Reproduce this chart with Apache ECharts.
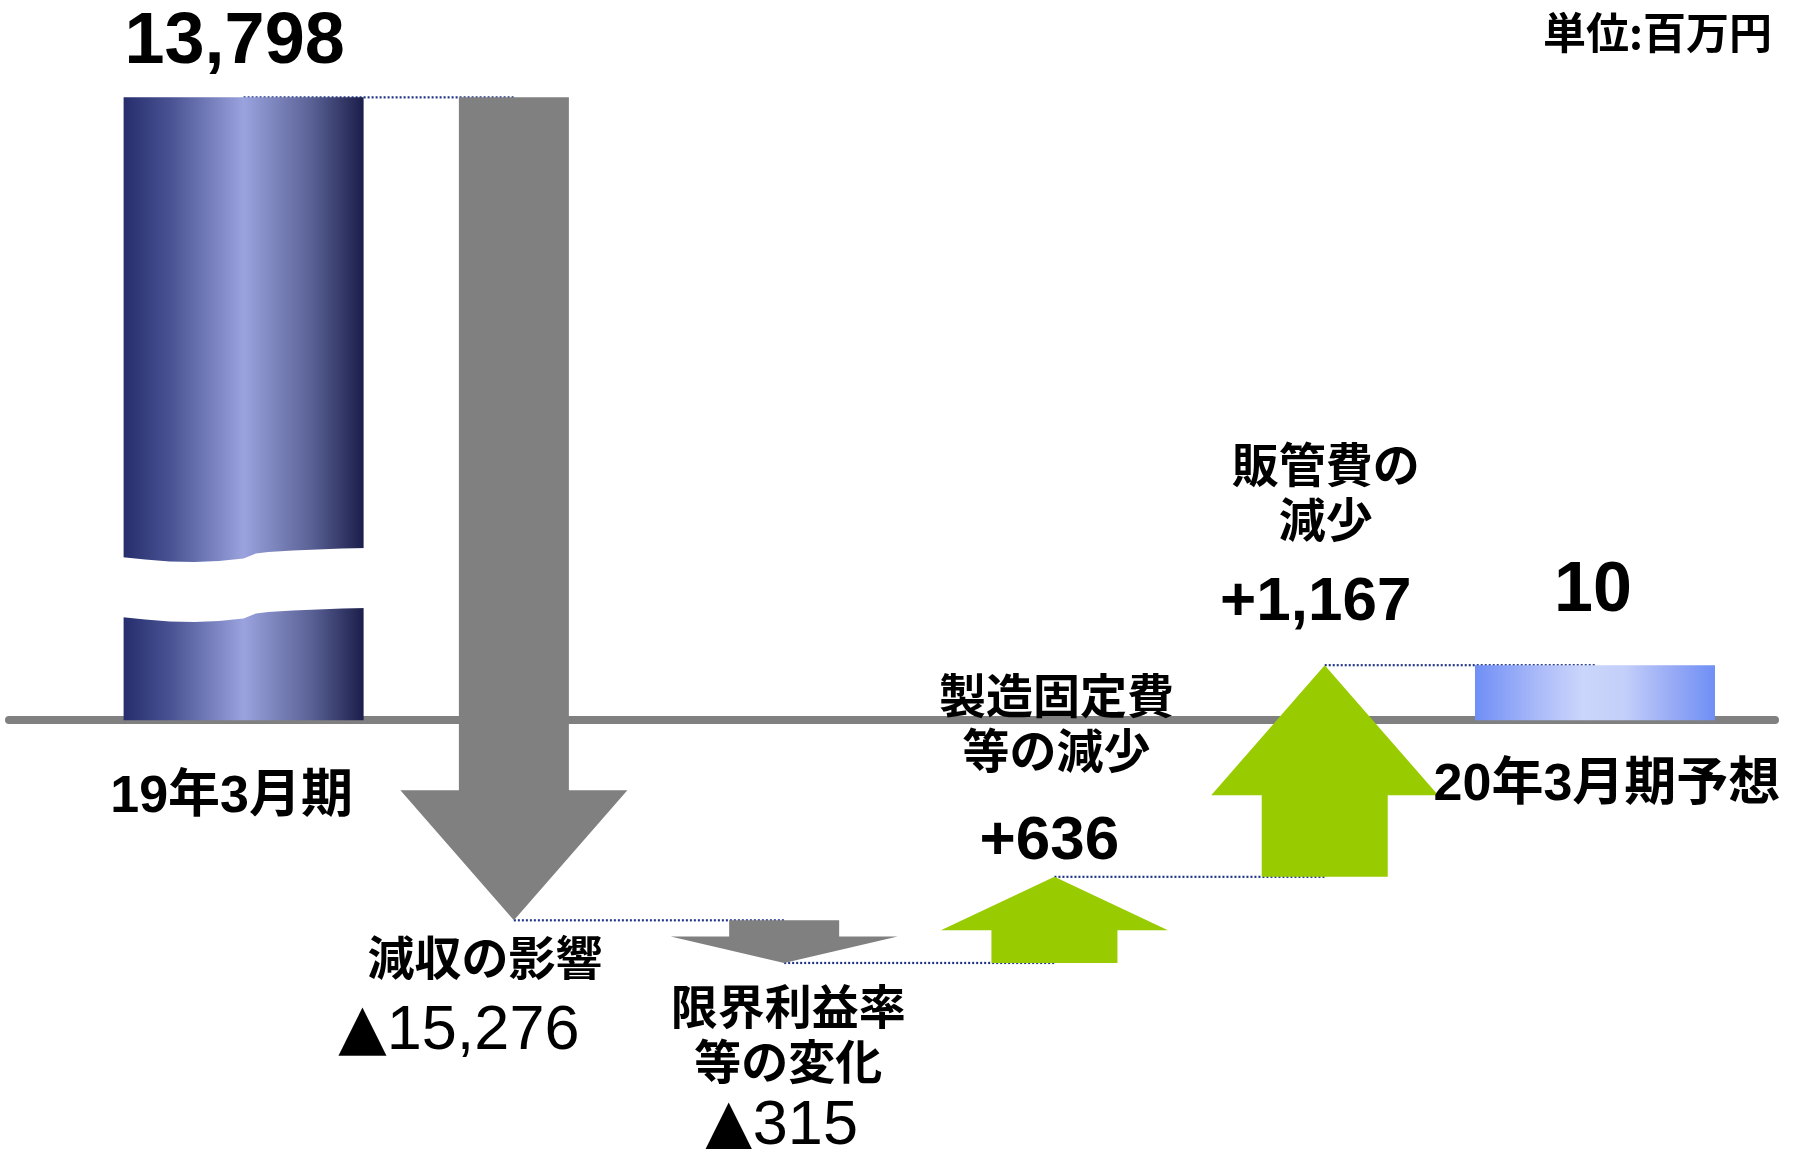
<!DOCTYPE html>
<html><head><meta charset="utf-8">
<script src="https://cdn.jsdelivr.net/npm/echarts@6/dist/echarts.min.js"></script>
<style>html,body{margin:0;padding:0;background:#fff;}#chart{width:1793px;height:1149px;}</style>
</head><body><div id="chart"></div>
<script>
// ---------------- data ----------------
const categories = ['19年3月期', '減収の影響', '限界利益率\n等の変化', '製造固定費\n等の減少', '販管費の\n減少', '20年3月期予想'];
const values = [13798, -15276, -315, 636, 1167, 10];
const kinds = ['total', 'delta', 'delta', 'delta', 'delta', 'total'];
const unitLabel = '単位:百万円';

// ---------------- derived waterfall levels ----------------
const starts = [], ends = [];
let run = 0;
values.forEach((v, i) => {
  if (kinds[i] === 'total') { starts.push(0); ends.push(v); run = v; }
  else { starts.push(run); run += v; ends.push(run); }
});
const seriesData = values.map((v, i) => [i, starts[i], ends[i], v]);

function fmtValue(v, kind) {
  const s = Math.abs(v).toLocaleString('en-US');
  if (kind === 'total') return s;
  return v < 0 ? '{tri|▲}' + s : '+' + s;
}

// ---------------- scale / style config ----------------
const Y_BREAKS = [{ start: 2, end: 8, gap: 402 }, { start: 380, end: 10418, gap: 443 }];
const FONT = '"Liberation Sans", "Noto Sans CJK JP", sans-serif';
const STYLE = {
  barWidth: 240,
  shaftDown: 110, shaftUp: 126, headWidth: 227, headRatio: 0.62, headMax: 130,
  down: '#808080', up: '#99cc00',
  startFill: new echarts.graphic.LinearGradient(0, 0, 1, 0, [
    { offset: 0, color: '#262d6c' }, { offset: 0.2, color: '#4a5494' },
    { offset: 0.5, color: '#9aa3de' }, { offset: 0.78, color: '#5a6296' },
    { offset: 1, color: '#1b1e4a' }]),
  endFill: new echarts.graphic.LinearGradient(0, 0, 1, 0, [
    { offset: 0, color: '#6f8ff6' }, { offset: 0.25, color: '#a8b8f8' },
    { offset: 0.45, color: '#cbd6fb' }, { offset: 0.62, color: '#c4cffa' },
    { offset: 0.82, color: '#98abf5' }, { offset: 1, color: '#6f8ff6' }]),
  connector: '#1f3388'
};
// wavy edge of the broken bar: [fraction across, offset px]
const WAVE = [[0,0],[0.1,2.5],[0.2,4.5],[0.3,5],[0.4,4],[0.5,1.5],[0.55,-3.5],[0.6,-5],[0.7,-6.5],[0.8,-7.5],[0.9,-8.5],[1,-9]];
// label placement relative to mark: anchor 'end' | 'start' | 'zero'
const LABELS = [
  { val: { a: 'end', dx: -9, dy: -54, size: 72, w: 'bold' },   cat: { a: 'zero', dx: -12, dy: 77, size: 52 } },
  { val: { a: 'end', dx: -55, dy: 111, size: 63, w: 'normal' }, cat: { a: 'end', dx: -29, dy: 42, size: 47 } },
  { val: { a: 'end', dx: -3, dy: 164, size: 63, w: 'normal' },  cat: { a: 'end', dx: 4, dy: 76, size: 47 } },
  { val: { a: 'start', dx: -5, dy: -121, size: 62, w: 'bold' }, cat: { a: 'start', dx: 2, dy: -235, size: 47 } },
  { val: { a: 'end', dx: -9, dy: -62, size: 62, w: 'bold' },    cat: { a: 'end', dx: 1, dy: -169, size: 47 } },
  { val: { a: 'end', dx: -2, dy: -73, size: 70, w: 'bold' },    cat: { a: 'zero', dx: 12, dy: 65, size: 52 } }
];

function renderItem(params, api) {
  const i = api.value(0), s = api.value(1), e = api.value(2), v = api.value(3);
  const p0 = api.coord([i, 0]);
  const cx = p0[0], y0 = p0[1];
  const yS = api.coord([i, s])[1];
  const yE = api.coord([i, e])[1];
  const children = [];
  const kind = kinds[i];

  if (i < values.length - 1) {
    const x2 = api.coord([i + 1, e])[0];
    children.push({ type: 'line', z2: 1, shape: { x1: cx, y1: yE, x2: x2, y2: yE },
      style: { stroke: STYLE.connector, lineWidth: 2.2, lineDash: [2, 2] } });
  }

  if (kind === 'total') {
    const w = STYLE.barWidth;
    children.push({ type: 'rect', z2: 5,
      shape: { x: cx - w / 2, y: Math.min(y0, yE), width: w, height: Math.abs(y0 - yE) },
      style: { fill: i === 0 ? STYLE.startFill : STYLE.endFill } });
    const br = Y_BREAKS[1];
    if (e > br.end) {
      const yTop = api.coord([i, br.end])[1] + 2, yBot = api.coord([i, br.start])[1] + 2;
      const xl = cx - w / 2 - 3, ww = w + 6;
      const pts = WAVE.map(([t, d]) => [xl + t * ww, yTop + d]);
      WAVE.slice().reverse().forEach(([t, d]) => pts.push([xl + t * ww, yBot + d]));
      children.push({ type: 'polygon', z2: 6, shape: { points: pts }, style: { fill: '#ffffff' } });
    }
  } else {
    const down = yE > yS;
    const dir = down ? 1 : -1;
    const len = Math.abs(yE - yS);
    const head = Math.min(len * STYLE.headRatio, STYLE.headMax);
    const base = yE - dir * head;
    const sw = down ? STYLE.shaftDown : STYLE.shaftUp, hw = STYLE.headWidth;
    children.push({ type: 'polygon', z2: 5, shape: { points: [
      [cx - sw / 2, yS], [cx + sw / 2, yS], [cx + sw / 2, base], [cx + hw / 2, base],
      [cx, yE], [cx - hw / 2, base], [cx - sw / 2, base]] },
      style: { fill: down ? STYLE.down : STYLE.up } });
  }

  const anchorY = a => a === 'end' ? yE : (a === 'start' ? yS : y0);
  const L = LABELS[i];
  children.push({ type: 'text', z2: 10, style: {
    text: fmtValue(v, kind), x: cx + L.val.dx, y: anchorY(L.val.a) + L.val.dy,
    align: 'center', verticalAlign: 'middle', fontSize: L.val.size, fontWeight: L.val.w,
    fontFamily: FONT, fill: '#000',
    rich: { tri: { fontFamily: '"DejaVu Sans"', fontSize: L.val.size, fill: '#000' } } } });
  children.push({ type: 'text', z2: 10, style: {
    text: categories[i], x: cx + L.cat.dx, y: anchorY(L.cat.a) + L.cat.dy,
    align: 'center', verticalAlign: 'middle', fontSize: L.cat.size, fontWeight: 'bold',
    lineHeight: 55, fontFamily: FONT, fill: '#000' } });

  return { type: 'group', children };
}

const chart = echarts.init(document.getElementById('chart'), null, { renderer: 'canvas' });
chart.setOption({
  backgroundColor: '#ffffff',
  animation: false,
  title: { text: unitLabel, right: 16, top: 6,
    textStyle: { fontSize: 43, fontWeight: 'bold', color: '#000', fontFamily: '"Noto Sans CJK JP", sans-serif' } },
  grid: { left: 9, right: 18, top: 70, bottom: 158 },
  xAxis: { type: 'value', min: -0.868, max: 5.666,
    axisLine: { show: true, onZero: true, lineStyle: { color: '#808080', width: 8 } },
    axisTick: { show: false }, axisLabel: { show: false }, splitLine: { show: false } },
  yAxis: { type: 'value', min: -2000, max: 14000, show: false,
    axisLine: { show: false }, axisTick: { show: false }, axisLabel: { show: false }, splitLine: { show: false },
    breaks: Y_BREAKS, breakArea: { show: false, expandOnClick: false } },
  series: [{ type: 'custom', renderItem, data: seriesData, encode: { x: 0, y: [1, 2] },
    clip: false, silent: true }]
});
</script></body></html>
